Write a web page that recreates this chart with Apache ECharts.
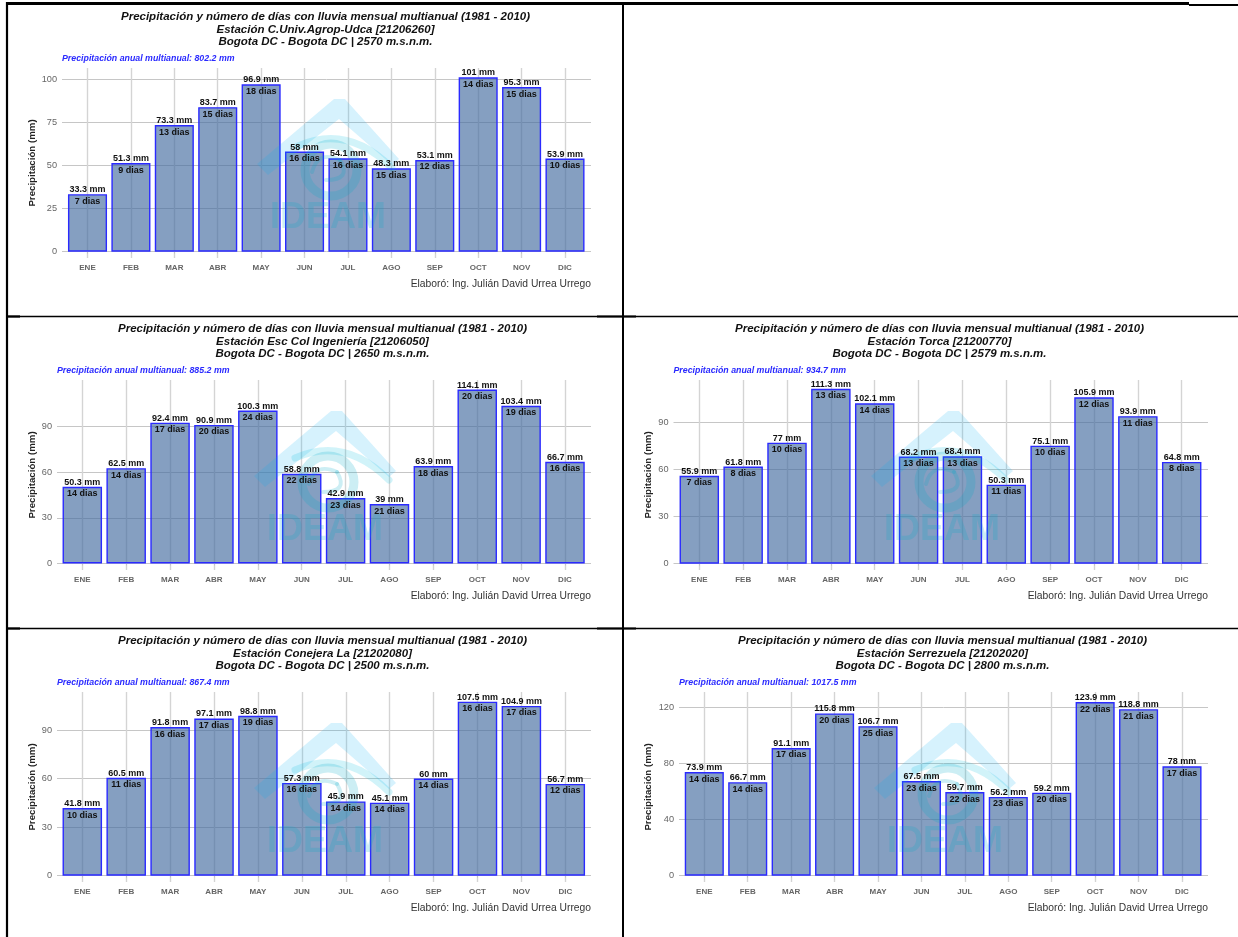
<!DOCTYPE html>
<html>
<head>
<meta charset="utf-8">
<script src="https://cdn.jsdelivr.net/npm/echarts@6/dist/echarts.min.js"></script>
<style>html,body{margin:0;padding:0;background:#fff}#c{width:1238px;height:937px}</style>
</head>
<body>
<div id="c"></div>
<script>
const months = ['ENE','FEB','MAR','ABR','MAY','JUN','JUL','AGO','SEP','OCT','NOV','DIC'];

const udcaMm = [33.3,51.3,73.3,83.7,96.9,58,54.1,48.3,53.1,101,95.3,53.9];
const udcaDias = [7,9,13,15,18,16,16,15,12,14,15,10];
const ingenieriaMm = [50.3,62.5,92.4,90.9,100.3,58.8,42.9,39,63.9,114.1,103.4,66.7];
const ingenieriaDias = [14,14,17,20,24,22,23,21,18,20,19,16];
const torcaMm = [55.9,61.8,77,111.3,102.1,68.2,68.4,50.3,75.1,105.9,93.9,64.8];
const torcaDias = [7,8,10,13,14,13,13,11,10,12,11,8];
const conejeraMm = [41.8,60.5,91.8,97.1,98.8,57.3,45.9,45.1,60,107.5,104.9,56.7];
const conejeraDias = [10,11,16,17,19,16,14,14,14,16,17,12];
const serrezuelaMm = [73.9,66.7,91.1,115.8,106.7,67.5,59.7,56.2,59.2,123.9,118.8,78];
const serrezuelaDias = [14,14,17,20,25,23,22,23,20,22,21,17];

const udcaTicks = [0,25,50,75,100];
const ingenieriaTicks = [0,30,60,90];
const torcaTicks = [0,30,60,90];
const conejeraTicks = [0,30,60,90];
const serrezuelaTicks = [0,40,80,120];

const mainTitle = 'Precipitación y número de días con lluvia mensual multianual (1981 - 2010)';
const credit = 'Elaboró: Ing. Julián David Urrea Urrego';
const yName = 'Precipitación (mm)';

const panels = [
  {st:'Estación C.Univ.Agrop-Udca [21206260]', place:'Bogota DC - Bogota DC | 2570 m.s.n.m.', anual:'802.2',
   mm:udcaMm, dias:udcaDias, ticks:udcaTicks,
   l:62, r:591, t:68, b:258, y0:251.7, refV:100, refY:79, first:87.5, last:565, cx:325.5, dy:0, nameX:31, wx:0, wy:0},
  {st:'Estación Esc Col Ingeniería [21206050]', place:'Bogota DC - Bogota DC | 2650 m.s.n.m.', anual:'885.2',
   mm:ingenieriaMm, dias:ingenieriaDias, ticks:ingenieriaTicks,
   l:57, r:591, t:380, b:570, y0:563.5, refV:90, refY:426.3, first:82.3, last:565, cx:322.5, dy:312, nameX:31, wx:-3, wy:312},
  {st:'Estación Torca [21200770]', place:'Bogota DC - Bogota DC | 2579 m.s.n.m.', anual:'934.7',
   mm:torcaMm, dias:torcaDias, ticks:torcaTicks,
   l:673.5, r:1208, t:380, b:570, y0:563.7, refV:90, refY:422.3, first:699.3, last:1181.7, cx:939.5, dy:312, nameX:647.5, wx:614, wy:312},
  {st:'Estación Conejera La [21202080]', place:'Bogota DC - Bogota DC | 2500 m.s.n.m.', anual:'867.4',
   mm:conejeraMm, dias:conejeraDias, ticks:conejeraTicks,
   l:57, r:591, t:692, b:882, y0:875.7, refV:90, refY:730, first:82.3, last:565.3, cx:322.5, dy:624, nameX:31, wx:-3, wy:624},
  {st:'Estación Serrezuela [21202020]', place:'Bogota DC - Bogota DC | 2800 m.s.n.m.', anual:'1017.5',
   mm:serrezuelaMm, dias:serrezuelaDias, ticks:serrezuelaTicks,
   l:679, r:1208, t:692, b:882, y0:875.7, refV:120, refY:707.5, first:704.3, last:1182, cx:942.5, dy:624, nameX:647.5, wx:617, wy:624}
];

const FONT = '"Liberation Sans", Arial, sans-serif';
const grids=[], xAxes=[], yAxes=[], series=[], titles=[], graphics=[];
const WZ=5;

function curve(x1,y1,cx,cy,x2,y2,stroke,w){
  return {type:'bezierCurve', z:WZ, shape:{x1,y1,x2,y2,cpx1:cx,cpy1:cy}, style:{fill:null,stroke,lineWidth:w,lineCap:'round'}};
}
function watermark(ox, oy){
  const c='rgba(0,173,240,0.16)', t='rgba(0,170,200,0.20)';
  return {type:'group', x:ox, y:oy, z:WZ, silent:true, children:[
    {type:'polygon', z:WZ, shape:{points:[[257,164],[334,99],[345,99],[399,159],[392,165],[339,119],[268,175]]}, style:{fill:c}},
    curve(298,146,348,124,392,168,'rgba(0,190,220,0.18)',7),
    {type:'circle', z:WZ, shape:{cx:331,cy:170,r:26}, style:{fill:'none',stroke:t,lineWidth:9}},
    curve(312,172,318,150,340,160,t,4),
    curve(340,160,352,180,326,180,t,4),
    {type:'text', z:WZ, style:{x:328,y:218,text:'IDEAM',fill:'rgba(0,170,200,0.2)',font:'bold 36px '+FONT,textAlign:'center',textVerticalAlign:'middle'}}
  ]};
}

panels.forEach((p,i)=>{
  const band=(p.last-p.first)/11;
  const perUnit=(p.y0-p.refY)/p.refV;
  const xMin=1-(p.first-p.l)/band, xMax=12+(p.r-p.last)/band;
  const yMin=-(p.b-p.y0)/perUnit, yMax=(p.y0-p.t)/perUnit;
  grids.push({left:p.l, top:p.t, width:p.r-p.l, height:p.b-p.t, containLabel:false});
  xAxes.push({gridIndex:i, type:'value', min:xMin, max:xMax,
    axisLine:{show:false},
    axisTick:{show:true,length:2,lineStyle:{color:'#c4c4c4'},customValues:months.map((m,k)=>k+1)},
    axisLabel:{customValues:months.map((m,k)=>k+1), formatter:v=>months[Math.round(v)-1]||'', margin:6,
      color:'#666', fontFamily:FONT, fontWeight:'bold', fontSize:8, showMinLabel:true, showMaxLabel:true},
    splitLine:{show:true,lineStyle:{color:'#d4d4d4',width:1.4}}, minorTick:{show:false}});
  yAxes.push({gridIndex:i, type:'value', min:yMin, max:yMax,
    name:yName, nameLocation:'middle', nameGap:p.l-p.nameX-6, nameRotate:90,
    nameTextStyle:{color:'#222',fontFamily:FONT,fontWeight:'bold',fontSize:9.7},
    axisLine:{show:false}, axisTick:{show:false,customValues:p.ticks},
    axisLabel:{customValues:p.ticks, margin:5, color:'#666', fontFamily:FONT, fontSize:9.2},
    splitLine:{show:true,lineStyle:{color:'#c6c6c6',width:1}}});
  const pts=p.mm.map((v,k)=>[k+1,v]);
  series.push({type:'bar', xAxisIndex:i, yAxisIndex:i, data:pts, barWidth:band*0.9, barGap:'-100%', z:3,
    itemStyle:{color:'rgba(68,108,160,0.65)',borderColor:'#2a2aff',borderWidth:1.4}});
  series.push({type:'bar', xAxisIndex:i, yAxisIndex:i, data:pts, barWidth:band*0.9, barGap:'-100%', z:6, silent:true,
    itemStyle:{color:'rgba(0,0,0,0)'},
    label:{show:true,position:'top',distance:0,formatter:o=>o.value[1]+' mm',color:'#111',fontFamily:FONT,fontWeight:'bold',fontSize:9}});
  series.push({type:'bar', xAxisIndex:i, yAxisIndex:i, data:pts, barWidth:band*0.9, barGap:'-100%', z:6, silent:true,
    itemStyle:{color:'rgba(0,0,0,0)'},
    label:{show:true,position:'insideTop',distance:2.5,formatter:o=>p.dias[o.dataIndex]+' dias',color:'#111',fontFamily:FONT,fontWeight:'bold',fontSize:9}});
  titles.push({text:mainTitle+'\n'+p.st+'\n'+p.place, left:p.cx, top:10.8+p.dy, textAlign:'center', padding:0,
    textStyle:{color:'#111',fontFamily:FONT,fontWeight:'bold',fontStyle:'italic',fontSize:11.5,lineHeight:12.5}});
  titles.push({text:'Precipitación anual multianual: '+p.anual+' mm', left:p.l, top:53.8+p.dy, padding:0,
    textStyle:{color:'#2a2aff',fontFamily:FONT,fontWeight:'bold',fontStyle:'italic',fontSize:8.8,lineHeight:10}});
  titles.push({text:credit, left:p.r, top:278.3+p.dy, textAlign:'right', padding:0,
    textStyle:{color:'#333',fontFamily:FONT,fontWeight:'normal',fontSize:10.3,lineHeight:11}});
  graphics.push(watermark(p.wx,p.wy));
});

function rule(x1,y1,x2,y2,w){
  return {type:'line', z:20, silent:true, shape:{x1,y1,x2,y2}, style:{stroke:'#000',lineWidth:w}};
}
graphics.push(
  rule(7,3.5,1189,3.5,3), rule(1189,5,1238,5,2),
  rule(7,2,7,937,2.2), rule(623,4,623,937,2),
  rule(8,316.5,1238,316.5,1.4), rule(8,628.5,1238,628.5,1.4),
  rule(8,316.5,20,316.5,2.2), rule(597,316.5,636,316.5,2.2),
  rule(8,628.5,20,628.5,2.2), rule(597,628.5,636,628.5,2.2)
);

const chart=echarts.init(document.getElementById('c'),null,{renderer:'canvas'});
chart.setOption({animation:false, backgroundColor:'#fff', tooltip:{show:false},
  title:titles, grid:grids, xAxis:xAxes, yAxis:yAxes, series:series, graphic:{elements:graphics}});
</script>
</body>
</html>
